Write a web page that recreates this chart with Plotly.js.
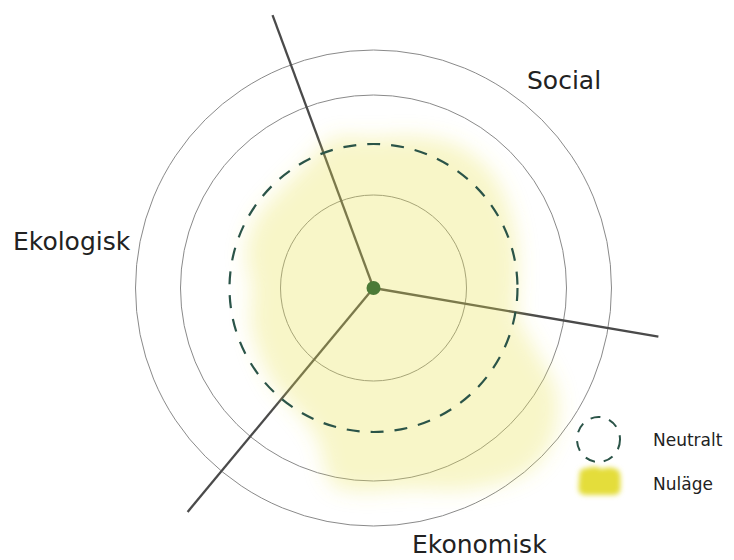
<!DOCTYPE html>
<html><head><meta charset="utf-8">
<script src="https://cdn.plot.ly/plotly-3.0.1.min.js"></script>
<style>html,body{margin:0;padding:0;background:#fff}</style>
</head><body><div id="chart" style="width:734px;height:560px"></div>
<script>
// ---- data ----
const sectorLabels = ['Social', 'Ekologisk', 'Ekonomisk'];
const labelAngles = [47.5, 171.3, -67.9];
const labelRadius = [282, 305, 281];
const axisAngles = [110.3, -9.7, 230.3];
const axisLength = [291, 289, 291];
const ringRadii = [93, 193, 238];
const neutralRadius = 144;
const blobTheta = [0, 15, 30, 45, 60, 75, 90, 105, 120, 135, 150, 165, 180, 195, 210, 225, 240, 250, 258, 265, 280, 295, 310, 320, 330, 340, 350];
const blobR = [144, 149, 157, 165, 165, 157, 150, 155, 140, 135, 136, 132, 121, 127, 132, 139, 146, 162, 200, 204, 204, 222, 240, 234, 212, 170, 145];
const legendLabels = ['Neutralt', 'Nuläge'];

function toXY(r, deg) { const a = deg * Math.PI / 180; return [r * Math.cos(a), r * Math.sin(a)]; }

// radial axes
const ax = [], ay = [];
axisAngles.forEach((a, i) => { const p = toXY(axisLength[i], a); ax.push(0, p[0], null); ay.push(0, p[1], null); });

// blob
const bx = [], by = [];
blobTheta.forEach((t, i) => { const p = toXY(blobR[i], t); bx.push(p[0]); by.push(p[1]); });
bx.push(bx[0]); by.push(by[0]);

const data = [
  {type: 'scatter', mode: 'lines', x: ax, y: ay, line: {color: '#4a4a4a', width: 2.3}, hoverinfo: 'skip', showlegend: false},
  {type: 'scatter', mode: 'lines', x: bx, y: by, fill: 'toself', fillcolor: 'rgba(232,226,78,0.31)', line: {width: 0, shape: 'spline', smoothing: 1}, hoverinfo: 'skip', showlegend: false},
  {type: 'scatter', mode: 'markers', x: [0], y: [0], marker: {color: '#4b7a37', size: 14}, hoverinfo: 'skip', showlegend: false}
];

const shapes = [];
ringRadii.forEach(r => shapes.push({type: 'circle', xref: 'x', yref: 'y', x0: -r, x1: r, y0: -r, y1: r, line: {color: '#8a8a8a', width: 1}, layer: 'below'}));
shapes.push({type: 'circle', xref: 'x', yref: 'y', x0: -neutralRadius, x1: neutralRadius, y0: -neutralRadius, y1: neutralRadius, line: {color: '#2b5448', width: 2.2, dash: '13px,11px'}, layer: 'above'});
// legend icons
shapes.push({type: 'circle', xref: 'x', yref: 'y', x0: 203.5, x1: 246.5, y0: -174, y1: -129, line: {color: '#2b5448', width: 2, dash: '10px,9px'}, layer: 'above'});
shapes.push({type: 'path', xref: 'x', yref: 'y', path: 'M 206,-186 Q 206,-180 214,-180 Q 222,-177 228,-181 Q 236,-178 243,-181 Q 247,-183 247,-190 L 247,-200 Q 247,-207 240,-207 L 212,-207 Q 205,-207 205,-200 Z', fillcolor: '#e4dd3a', line: {width: 0}, layer: 'above'});

const annotations = [];
sectorLabels.forEach((s, i) => {
  const p = toXY(labelRadius[i], labelAngles[i]);
  const last = i === 2;
  annotations.push({x: p[0], y: last ? -272 : p[1], xref: 'x', yref: 'y', text: s, showarrow: false, xanchor: 'center', yanchor: last ? 'bottom' : 'middle', borderpad: 0, font: {family: 'DejaVu Sans', size: 25, color: '#222'}});
});
annotations.push({x: 277.5, y: -152, xref: 'x', yref: 'y', text: legendLabels[0], showarrow: false, xanchor: 'left', yanchor: 'middle', font: {family: 'DejaVu Sans', size: 17, color: '#222'}});
annotations.push({x: 277.5, y: -196, xref: 'x', yref: 'y', text: legendLabels[1], showarrow: false, xanchor: 'left', yanchor: 'middle', font: {family: 'DejaVu Sans', size: 17, color: '#222'}});

const layout = {
  width: 734, height: 560,
  margin: {l: 0, r: 0, t: 0, b: 0},
  paper_bgcolor: '#fff', plot_bgcolor: '#fff',
  showlegend: false,
  xaxis: {range: [-373.5, 360.5], visible: false, fixedrange: true},
  yaxis: {range: [-272, 288], visible: false, fixedrange: true},
  shapes: shapes,
  annotations: annotations
};

Plotly.newPlot('chart', data, layout, {staticPlot: true, displayModeBar: false}).then(gd => {
  const ns = 'http://www.w3.org/2000/svg';
  const svg = gd.querySelector('svg.main-svg');
  let defs = svg.querySelector('defs');
  if (!defs) { defs = document.createElementNS(ns, 'defs'); svg.insertBefore(defs, svg.firstChild); }
  function mk(id, sd) {
    const f = document.createElementNS(ns, 'filter');
    f.setAttribute('id', id); f.setAttribute('x', '-30%'); f.setAttribute('y', '-30%'); f.setAttribute('width', '160%'); f.setAttribute('height', '160%');
    const b = document.createElementNS(ns, 'feGaussianBlur'); b.setAttribute('stdDeviation', sd);
    f.appendChild(b); defs.appendChild(f);
  }
  mk('blobblur', 10); mk('swatchblur', 2.5);
  const traces = gd.querySelectorAll('.scatterlayer .trace');
  if (traces[1]) {
    const fill = traces[1].querySelector('.js-fill');
    if (fill) fill.setAttribute('filter', 'url(#blobblur)');
  }
  gd.querySelectorAll('.shapelayer path').forEach(p => {
    const f = (p.style.fill || '').replace(/\s/g, '');
    if (f === 'rgb(228,221,58)') p.setAttribute('filter', 'url(#swatchblur)');
  });
});
</script>
</body></html>
